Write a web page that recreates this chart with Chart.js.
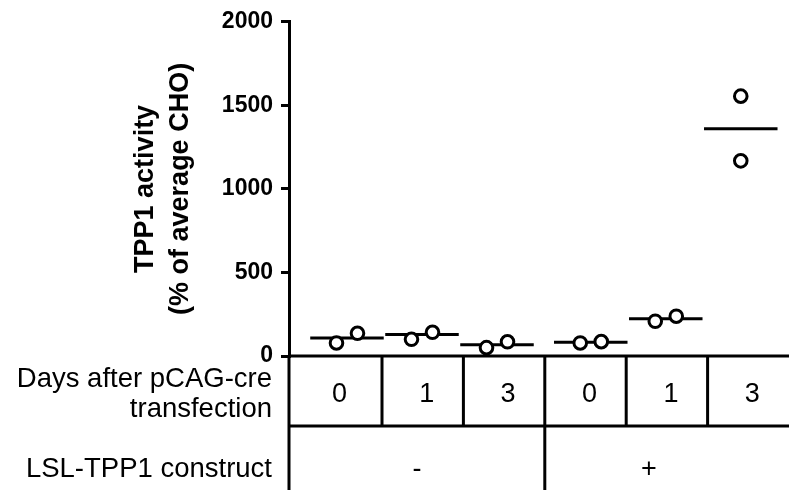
<!DOCTYPE html>
<html>
<head>
<meta charset="utf-8">
<script src="https://cdn.jsdelivr.net/npm/chart.js@4/dist/chart.umd.min.js"></script>
<style>
  html, body { margin: 0; padding: 0; background: #fff; overflow: hidden; }
  canvas { display: block; }
</style>
</head>
<body>
<canvas id="chart" width="789" height="490"></canvas>
<script>
// groups, left to right: construct -/+ x days 0,1,3
const days = ['0', '1', '3', '0', '1', '3'];
const constructs = ['-', '+'];
const groupPos = [0, 1, 2, 3.25, 4.25, 5.25];
const rep1 = [78, 100, 50, 78, 208, 1555];
const rep2 = [136, 142, 85, 86, 238, 1168];
const medians = [107, 128, 68, 82, 223, 1360];
const yTicks = [0, 500, 1000, 1500, 2000];

const FONT = '"Liberation Sans", Arial, sans-serif';

// spread the two replicates sideways only when they would overlap
const points = [];
groupPos.forEach((p, i) => {
  const spread = Math.abs(rep1[i] - rep2[i]) < 150 ? 0.14 : 0;
  points.push({ x: p - spread, y: rep1[i] });
  points.push({ x: p + spread, y: rep2[i] });
});

const medianSets = groupPos.map((p, i) => ({
  type: 'line',
  data: [{ x: p - 0.49, y: medians[i] }, { x: p + 0.49, y: medians[i] }],
  borderColor: '#000',
  borderWidth: 3,
  pointRadius: 0,
  order: 1
}));

// table of conditions under the plot, tied to the chart area
const tablePlugin = {
  id: 'conditionTable',
  afterDraw(chart) {
    const { ctx, chartArea: a } = chart;
    const H = chart.height;
    const cellW = (a.right - a.left - 11.6) / 6;
    const edges = [a.left];
    for (let k = 5; k >= 1; k--) edges.push(a.right - k * cellW);
    edges.push(a.right);
    const rowY = a.bottom + 70;

    ctx.save();
    ctx.strokeStyle = '#000';
    ctx.lineWidth = 3;
    ctx.beginPath();
    ctx.moveTo(a.left, a.bottom); ctx.lineTo(a.right, a.bottom);
    ctx.moveTo(a.left, rowY); ctx.lineTo(a.right, rowY);
    ctx.moveTo(a.left, a.bottom); ctx.lineTo(a.left, H);
    for (let k = 1; k <= 5; k++) {
      ctx.moveTo(edges[k], a.bottom); ctx.lineTo(edges[k], rowY);
    }
    ctx.moveTo(edges[3], rowY); ctx.lineTo(edges[3], H);
    ctx.stroke();

    ctx.fillStyle = '#000';
    ctx.font = '27px ' + FONT;
    ctx.textBaseline = 'alphabetic';
    ctx.textAlign = 'center';
    days.forEach((d, i) => {
      ctx.fillText(d, (edges[i] + edges[i + 1]) / 2 + 4, a.bottom + 46);
    });
    ctx.fillText(constructs[0], (edges[0] + edges[3]) / 2, a.bottom + 121);
    ctx.fillText(constructs[1], edges[3] + 104, a.bottom + 121);

    ctx.font = '27.5px ' + FONT;
    ctx.textAlign = 'right';
    ctx.fillText('Days after pCAG-cre', a.left - 17, a.bottom + 31);
    ctx.fillText('transfection', a.left - 17, a.bottom + 61);
    ctx.fillText('LSL-TPP1 construct', a.left - 17, a.bottom + 121);
    ctx.restore();
  }
};

new Chart(document.getElementById('chart'), {
  type: 'scatter',
  data: {
    datasets: [{
      data: points,
      pointRadius: 6.3,
      pointBorderWidth: 3,
      pointBackgroundColor: '#fff',
      pointBorderColor: '#000',
      order: 0
    }, ...medianSets]
  },
  options: {
    responsive: false,
    animation: false,
    layout: { autoPadding: false, padding: { top: 17, bottom: 134, left: 0, right: 0 } },
    plugins: { legend: { display: false }, tooltip: { enabled: false } },
    scales: {
      x: { type: 'linear', display: false, min: -0.773, max: 5.893 },
      y: {
        min: 0,
        max: 2000,
        afterFit: s => { s.width = 289; },
        afterBuildTicks: s => { s.ticks = yTicks.map(v => ({ value: v })); },
        ticks: {
          color: '#000',
          padding: 8,
          font: { family: FONT, size: 23, weight: 'bold' },
          callback: v => String(v)
        },
        grid: { drawOnChartArea: false, drawTicks: true, tickLength: 8, lineWidth: 3, color: '#000' },
        border: { display: true, width: 3, color: '#000' },
        title: {
          display: true,
          text: ['TPP1 activity', '(% of average CHO)'],
          color: '#000',
          font: { family: FONT, size: 27, weight: 'bold', lineHeight: 1.3 },
          padding: { top: 128, bottom: 0 }
        }
      }
    }
  },
  plugins: [tablePlugin]
});
</script>
</body>
</html>
